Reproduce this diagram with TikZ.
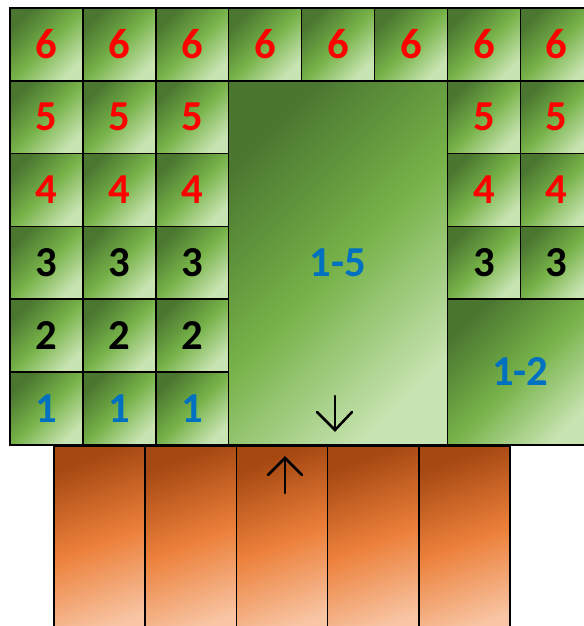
\documentclass[tikz,border=0pt]{standalone}
\usepackage{fontspec}
\setmainfont{Carlito}
\definecolor{gdark}{RGB}{74,118,48}
\definecolor{gmid}{RGB}{118,178,72}
\definecolor{glight}{RGB}{200,228,178}
\definecolor{odark}{RGB}{165,72,18}
\definecolor{omid}{RGB}{236,128,58}
\definecolor{olight}{RGB}{248,198,165}
\definecolor{lblred}{RGB}{255,0,0}
\definecolor{lblblue}{RGB}{0,112,192}
\begin{document}
\begin{tikzpicture}[x=0.75pt,y=-0.75pt,
  greenbox/.style={draw=black, line width=1.1pt, inner sep=0pt,
    left color=gdark, right color=glight, middle color=gmid, shading angle=45,
    font=\fontsize{32}{36}\selectfont\bfseries},
  cell/.style={greenbox, minimum width=54.7pt, minimum height=54.6pt},
  orangebar/.style={draw=black, line width=1.1pt, inner sep=0pt,
    left color=odark, right color=olight, middle color=omid, shading angle=20,
    minimum width=68.4pt, minimum height=145.5pt},
  arrowline/.style={draw=black, line width=1.9pt, line cap=round, line join=miter}
]
\useasboundingbox (0,0) rectangle (584,626);
\clip (0,0) rectangle (584,626);
% orange bars
\foreach \k in {0,...,4}
  \node[orangebar] (bar\k) at ({54+91.2*(\k+0.5)}, 543) {};
% top row of sixes
\foreach \c in {0,...,7}
  \node[cell, text=lblred] (r0c\c) at ({10+72.9*(\c+0.5)}, {8+72.8*0.5}) {6};
% left columns
\foreach \r/\t/\col in {1/5/lblred,2/4/lblred,3/3/black,4/2/black,5/1/lblblue}
  \foreach \c in {0,1,2}
    \node[cell, text=\col] (r\r c\c) at ({10+72.9*(\c+0.5)}, {8+72.8*(\r+0.5)}) {\t};
% right columns
\foreach \r/\t/\col in {1/5/lblred,2/4/lblred,3/3/black}
  \foreach \c in {6,7}
    \node[cell, text=\col] (r\r c\c) at ({10+72.9*(\c+0.5)}, {8+72.8*(\r+0.5)}) {\t};
% big boxes
\node[greenbox, text=lblblue, minimum width=164pt, minimum height=273pt] (big15) at (338.05,262.8) {1-5};
\node[greenbox, text=lblblue, minimum width=109.35pt, minimum height=109.2pt] (big12) at (520.3,372) {1-2};
% arrows
\coordinate (dtop) at (335,396);
\coordinate (dtip) at (335,430);
\draw[arrowline] (dtop) -- (dtip);
\draw[arrowline] (dtip) ++(-18,-18) -- (dtip) -- ++(17,-18);
\coordinate (ubot) at (285,493);
\coordinate (utip) at (285,458);
\draw[arrowline] (ubot) -- (utip);
\draw[arrowline] (utip) ++(-17,17) -- (utip) -- ++(17,17);
\end{tikzpicture}
\end{document}
